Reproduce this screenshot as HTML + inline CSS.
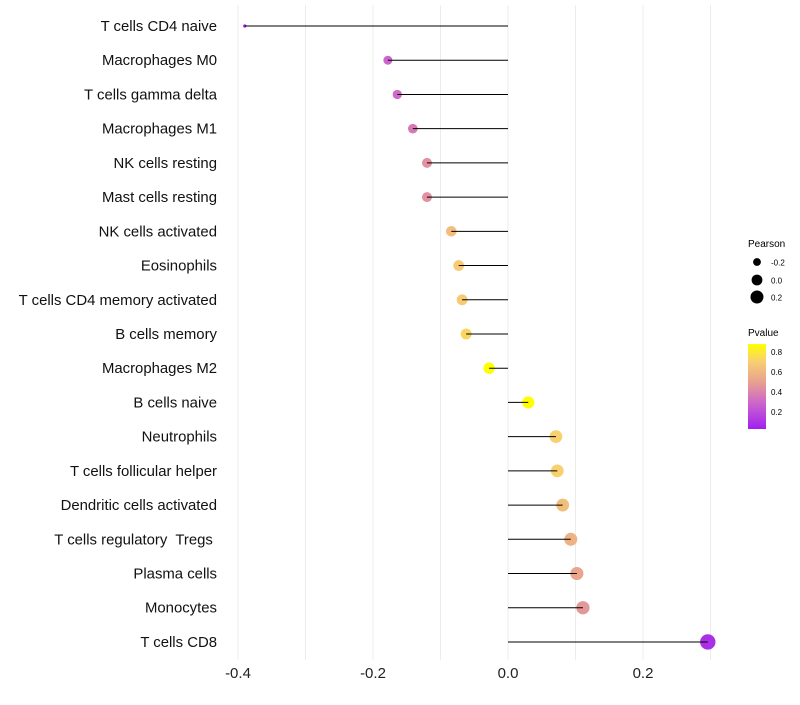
<!DOCTYPE html>
<html><head><meta charset="utf-8"><style>
body{margin:0;background:#fff;font-family:"Liberation Sans",sans-serif}
svg text{font-family:"Liberation Sans",sans-serif}
</style></head><body>
<svg id="chart" width="800" height="700" xmlns="http://www.w3.org/2000/svg">
<rect width="800" height="700" fill="#fff"/>
<g id="grid"></g><g id="marks"></g><g id="ylabels"></g><g id="xlabels"></g>
<g>
<text x="748" y="247" font-size="10">Pearson</text>
<circle cx="757" cy="262" r="3.9" fill="#000"/><text x="771" y="265.5" font-size="8">-0.2</text>
<circle cx="757" cy="280" r="5.4" fill="#000"/><text x="771" y="283.5" font-size="8">0.0</text>
<circle cx="757" cy="297" r="6.5" fill="#000"/><text x="771" y="300.5" font-size="8">0.2</text>
<text x="748" y="336" font-size="10">Pvalue</text>
<defs><linearGradient id="pg" x1="0" y1="1" x2="0" y2="0">
<stop offset="0" stop-color="#a020f0"/><stop offset="0.3" stop-color="#cc64cc"/><stop offset="0.55" stop-color="#e8a090"/><stop offset="0.8" stop-color="#f8d070"/><stop offset="1" stop-color="#ffff00"/></linearGradient></defs>
<rect x="748" y="344" width="18" height="85" fill="url(#pg)"/>
<text x="771" y="355" font-size="8">0.8</text><text x="771" y="375" font-size="8">0.6</text>
<text x="771" y="395" font-size="8">0.4</text><text x="771" y="415" font-size="8">0.2</text>
</g>
</svg>
<script>
const categories=["T cells CD4 naive","Macrophages M0","T cells gamma delta","Macrophages M1","NK cells resting","Mast cells resting","NK cells activated","Eosinophils","T cells CD4 memory activated","B cells memory","Macrophages M2","B cells naive","Neutrophils","T cells follicular helper","Dendritic cells activated","T cells regulatory\u00a0 Tregs\u00a0","Plasma cells","Monocytes","T cells CD8"];
const pearson=[-0.39,-0.178,-0.164,-0.141,-0.12,-0.12,-0.084,-0.073,-0.068,-0.062,-0.028,0.030,0.071,0.073,0.081,0.093,0.102,0.111,0.296];
const pvalue=[0.05,0.3,0.32,0.37,0.45,0.45,0.62,0.68,0.68,0.72,0.9,0.9,0.7,0.7,0.63,0.58,0.52,0.47,0.1];
const xTicks=[-0.4,-0.2,0.0,0.2];
const xTickLabels=["-0.4","-0.2","0.0","0.2"];
const NS="http://www.w3.org/2000/svg";
const x=v=>508+v*675;
const y=i=>26+i*34.22;
const rad=v=>1.1*Math.sqrt(Math.max(1.5,28.8+68.1*v));
const stops=[[0.04,[160,32,240]],[0.3,[204,100,204]],[0.5,[232,160,144]],[0.7,[248,208,112]],[0.88,[255,255,0]]];
function col(p){if(p<=stops[0][0])return stops[0][1];for(let k=1;k<stops.length;k++){if(p<=stops[k][0]){const a=stops[k-1],b=stops[k],t=(p-a[0])/(b[0]-a[0]);return a[1].map((c,j)=>Math.round(c+(b[1][j]-c)*t));}}return stops[stops.length-1][1];}
function mk(tag,attrs,parent){const e=document.createElementNS(NS,tag);for(const k in attrs)e.setAttribute(k,attrs[k]);parent.appendChild(e);return e;}
const grid=document.getElementById('grid'),marks=document.getElementById('marks'),yl=document.getElementById('ylabels'),xl=document.getElementById('xlabels');
for(let v=-0.4;v<=0.31;v+=0.1){const g=mk('line',{x1:x(v),x2:x(v),y1:5,y2:660,stroke:'#ececec','stroke-width':1},grid);

}
xTicks.forEach((v,i)=>{const t=mk('text',{x:x(v),y:678,'font-size':15,'text-anchor':'middle',fill:'#222'},xl);t.textContent=xTickLabels[i];

});
categories.forEach((c,i)=>{
const t=mk('text',{x:217,y:y(i)+5,'font-size':14.9,'text-anchor':'end',fill:'#111'},yl);t.textContent=c;


const cc=col(pvalue[i]);
const d=mk('circle',{cx:x(pearson[i]),cy:y(i),r:rad(pearson[i]),fill:`rgb(${cc.join(',')})`},marks);


const l=mk('line',{x1:x(0),x2:x(pearson[i]),y1:y(i),y2:y(i),stroke:'#000','stroke-width':1},marks);


});
</script>
</body></html>
